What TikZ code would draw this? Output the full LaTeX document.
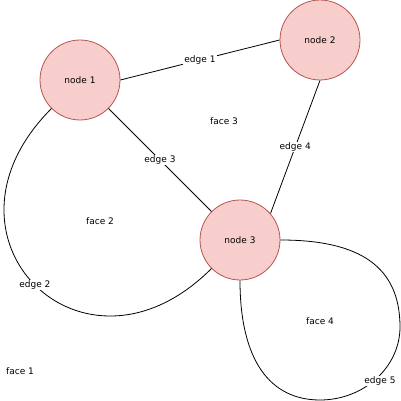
\documentclass[tikz,border=0pt]{standalone}
\usepackage{fontspec}
\setmainfont{DejaVu Sans}
\definecolor{nodefill}{HTML}{F8CECC}
\definecolor{nodeline}{HTML}{B85450}
\begin{document}
\begin{tikzpicture}[x=1pt,y=1pt,
  txt/.style={font=\fontsize{9}{11}\selectfont, text=black},
  vertex/.style={txt, circle, draw=nodeline, fill=nodefill, line width=0.8pt,
    minimum size=80pt, inner sep=0pt},
  link/.style={draw=black, line width=0.8pt},
  elabel/.style={txt, fill=white, inner sep=1pt},
  flabel/.style={txt, inner sep=1pt}]
\useasboundingbox (0,0) rectangle (401,401);

% vertices
\node[vertex] (n1) at (80,321) {node 1};
\node[vertex] (n2) at (320,361) {node 2};
\node[vertex] (n3) at (240,161) {node 3};

% waypoints of the loop at node 3
\coordinate (e5a) at (400,74);
\coordinate (e5b) at (320,1);

% edges
\draw[link] (n1.0) -- node[elabel] {edge 1} (n2.180);
\draw[link] (n1.315) -- node[elabel] {edge 3} (n3.135);
\draw[link] (n2.270) -- node[elabel] {edge 4} (n3.41);
\draw[link] (n1.225) .. controls +(225:182) and +(225:182) .. (n3.225)
  node[elabel, pos=0.5] {edge 2};
\draw[link] (n3.0) .. controls +(80,0) and +(0,60) .. (e5a)
  .. controls +(0,-40) and +(44,0) .. (e5b)
  .. controls +(-50,0) and +(0,-80) .. (n3.270);
\node[elabel] (l5) at (380,20) {edge 5};

% faces
\node[flabel] (f1) at (20,30) {face 1};
\node[flabel] (f2) at (100,180) {face 2};
\node[flabel] (f3) at (224,280) {face 3};
\node[flabel] (f4) at (320,80) {face 4};
\end{tikzpicture}
\end{document}
